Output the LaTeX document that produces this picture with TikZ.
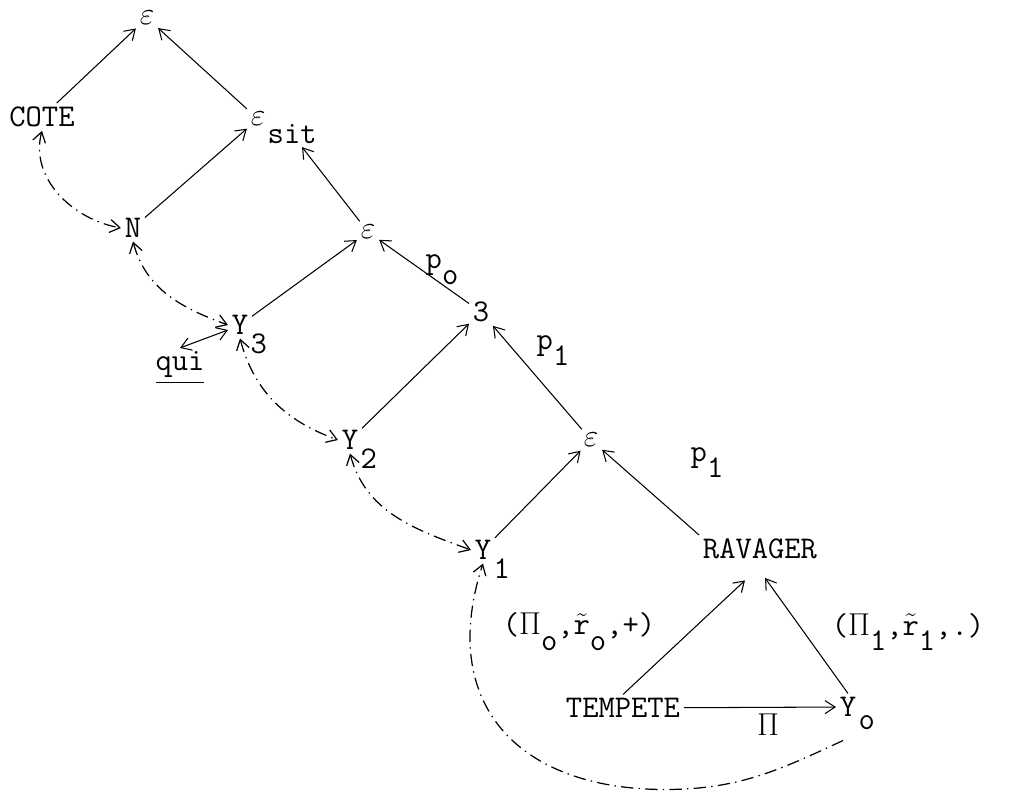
\RequirePackage{fix-cm}
\documentclass[tikz,border=0pt]{standalone}
\usepackage{fontspec}
\usepackage{amsmath,amssymb}
\usetikzlibrary{arrows.meta,positioning}
\tikzset{
  >={Straight Barb[length=2mm,width=2.6mm]},
  every picture/.style={
    font=\ttfamily\fontsize{18}{21}\selectfont
  },
  word/.style={
    inner sep=2pt
  },
  sub/.style={
    anchor=north west,
    inner sep=0pt,
    xshift=-1pt,
    yshift=3pt
  },
  arr/.style={
    ->,
    line width=0.6pt
  },
  link/.style={
    line width=0.7pt,
    dash pattern=on 7pt off 3pt on 0.8pt off 3pt
  },
}
\newcommand{\lo}[1]{\raisebox{-0.5em}{#1}}

\begin{document}
\begin{tikzpicture}
  \useasboundingbox (0,0) rectangle (20.72,15.94);
  % nodes of the tree
  \node[word] (eps0) at (2.94,15.58) {$\varepsilon$};
  \node[word] (cote) at (0.84,13.60) {COTE};
  \node[word] (esit) at (5.16,13.56) {$\varepsilon$};
  \node[sub] (sit) at (esit.south east) {sit};
  \node[word] (n) at (2.66,11.38) {N};
  \node[word] (eps1) at (7.36,11.30) {$\varepsilon$};
  \node[word] (y3) at (4.80,9.44) {Y};
  \node[sub] (y3s) at (y3.south east) {3};
  \node[word] (three) at (9.62,9.70) {3};
  \node[word] (qui) at (3.60,8.58) {\underline{qui}};
  \node[word] (y2) at (7.00,7.14) {Y};
  \node[sub] (y2s) at (y2.south east) {2};
  \node[word] (eps2) at (11.82,7.14) {$\varepsilon$};
  \node[word] (y1) at (9.66,4.94) {Y};
  \node[sub] (y1s) at (y1.south east) {1};
  \node[word] (ravager) at (15.20,4.96) {RAVAGER};
  \node[word] (tempete) at (12.46,1.78) {TEMPETE};
  \node[word] (yo) at (16.96,1.80) {Y};
  \node[sub] (yos) at (yo.south east) {o};
  % labels
  \node (po) at (8.84,10.54) {p\lo{o}};
  \node (p1a) at (11.06,8.92) {p\lo{1}};
  \node (p1b) at (14.14,6.68) {p\lo{1}};
  \node (lab0) at (11.58,3.30) {($\Pi$\lo{o},$\tilde{\mathtt{r}}$\lo{o},+)};
  \node (lab1) at (18.16,3.30) {($\Pi$\lo{1},$\tilde{\mathtt{r}}$\lo{1},.)};
  \node (pi) at (15.36,1.44) {$\Pi$};
  % arrows
  \draw[arr] (cote) -- (eps0);
  \draw[arr] (esit) -- (eps0);
  \draw[arr] (n) -- (esit);
  \draw[arr,shorten >=2pt] (eps1) -- (sit);
  \draw[arr] (y3) -- (eps1);
  \draw[arr] (three) -- (eps1);
  \draw[arr] (y2) -- (three);
  \draw[arr] (eps2) -- (three);
  \draw[arr] (y1) -- (eps2);
  \draw[arr] (ravager.north west) -- (eps2);
  \draw[arr] (tempete.north) -- ([xshift=-3mm,yshift=-3.5mm]ravager.south);
  \draw[arr] (yo.north) -- ([xshift=1mm,yshift=-3mm]ravager.south);
  \draw[arr] (tempete) -- (yo);
  \draw[arr,<->] (qui.north) -- ([yshift=-1mm]y3.west);
  % dash-dotted links
  \draw[link,<->] (cote.south) to[out=255,in=170] (n.west);
  \draw[link,<->] (n.south) to[out=285,in=160] (y3.west);
  \draw[link,<->] (y3.south) to[out=285,in=160] (y2.west);
  \draw[link,<->] (y2.south) to[out=285,in=160] (y1.west);
  \coordinate (low) at (13.3,0.15);
  \draw[link,->] ([xshift=-1mm,yshift=-4mm]yo.south) to[out=205,in=0] (low)
    to[out=180,in=252,looseness=1.3] (y1.south);
\end{tikzpicture}
\end{document}
